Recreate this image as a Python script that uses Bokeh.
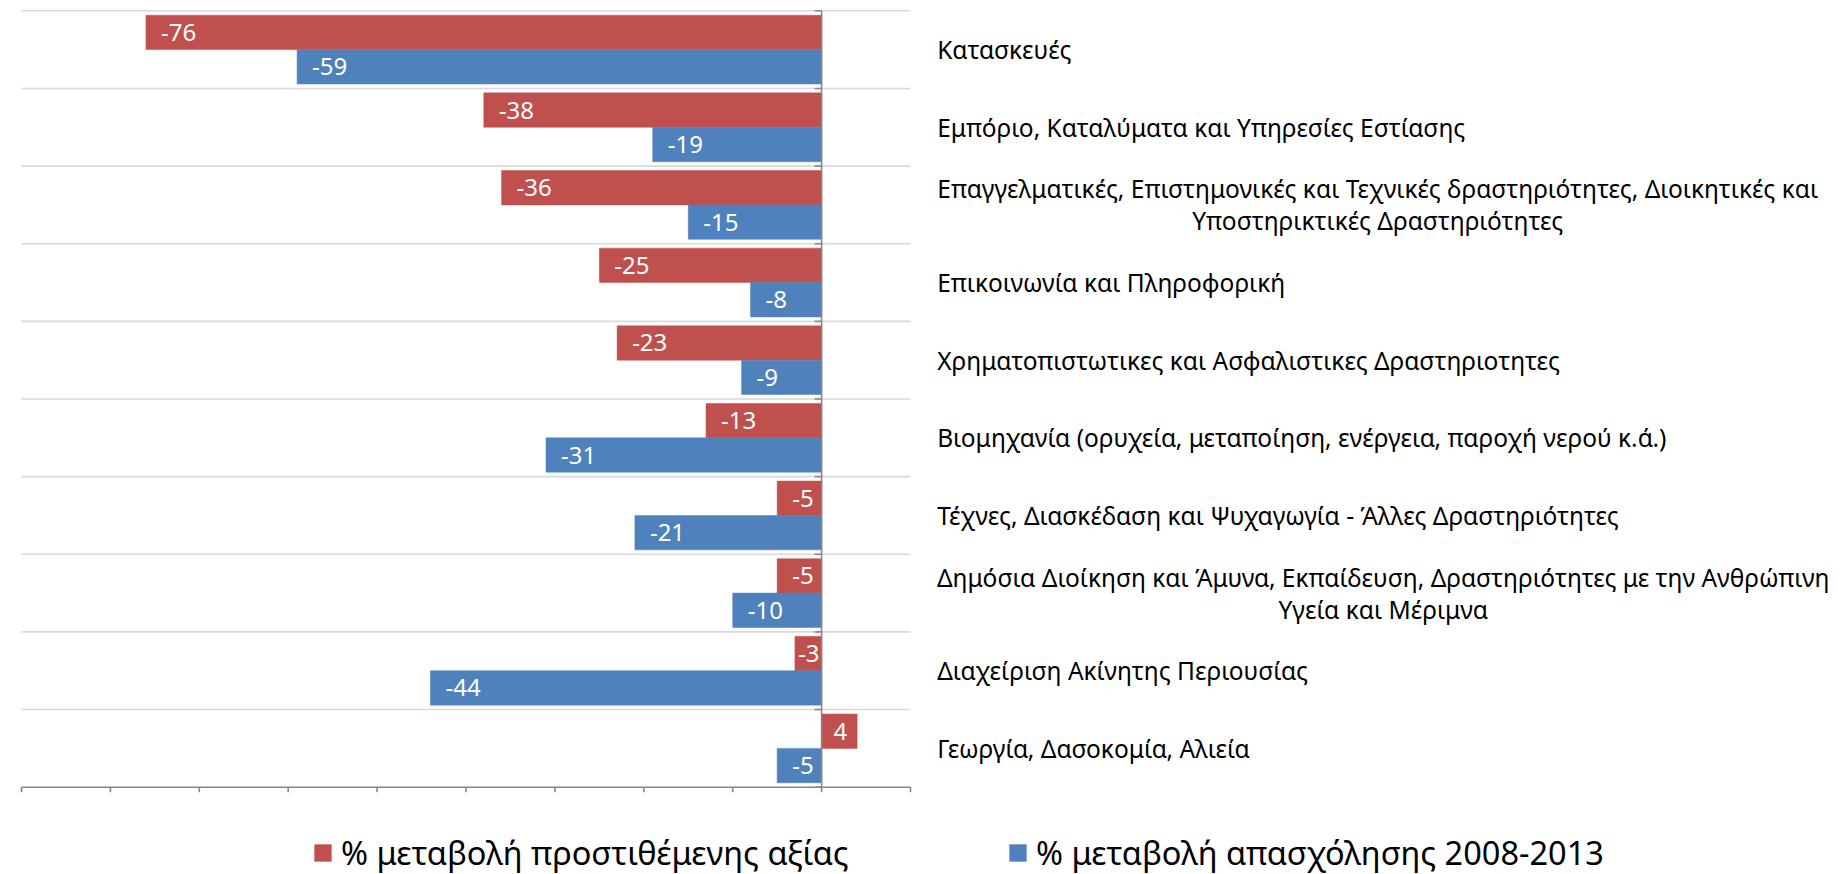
from bokeh.plotting import figure
from bokeh.models import ColumnDataSource, Range1d, Legend, LegendItem
from bokeh.embed import file_html
from bokeh.resources import INLINE
from bokeh.core.properties import value

# ---------------- data ----------------
categories = [
    "Κατασκευές",
    "Εμπόριο, Καταλύματα και Υπηρεσίες Εστίασης",
    "Επαγγελματικές, Επιστημονικές και Τεχνικές δραστηριότητες, Διοικητικές και\nΥποστηρικτικές Δραστηριότητες",
    "Επικοινωνία και Πληροφορική",
    "Χρηματοπιστωτικες και Ασφαλιστικες Δραστηριοτητες",
    "Βιομηχανία (ορυχεία, μεταποίηση, ενέργεια, παροχή νερού κ.ά.)",
    "Τέχνες, Διασκέδαση και Ψυχαγωγία - Άλλες Δραστηριότητες",
    "Δημόσια Διοίκηση και Άμυνα, Εκπαίδευση, Δραστηριότητες με την Ανθρώπινη\nΥγεία και Μέριμνα",
    "Διαχείριση Ακίνητης Περιουσίας",
    "Γεωργία, Δασοκομία, Αλιεία",
]
value_added = [-76, -38, -36, -25, -23, -13, -5, -5, -3, 4]
employment = [-59, -19, -15, -8, -9, -31, -21, -10, -44, -5]
series_names = ["% μεταβολή προστιθέμενης αξίας", "% μεταβολή απασχόλησης 2008-2013"]
x_ticks = [-90, -80, -70, -60, -50, -40, -30, -20, -10, 0, 10]

# ---------------- style / layout ----------------
RED = "#C0504D"
BLUE = "#4F81BD"
GRID = "#D9D9D9"
AXIS = "#868686"
FONT = "Noto Sans"

W, H = 1847, 874
X0, X1 = x_ticks[0], x_ticks[-1]
PLOT_L, PLOT_R = 21.0, 910.0      # page x of X0 and X1
PLOT_T, PLOT_B = 10.3, 786.7      # page y of top and bottom of category area
n = len(categories)
PX_X = (PLOT_R - PLOT_L) / (X1 - X0)
PX_Y = (PLOT_B - PLOT_T) / n

xs0 = X0 - PLOT_L / PX_X
ys1 = n + PLOT_T / PX_Y

p = figure(width=W, height=H, output_backend="svg", toolbar_location=None,
           x_range=Range1d(xs0, xs0 + W / PX_X), y_range=Range1d(ys1 - H / PX_Y, ys1),
           x_axis_location=None, y_axis_location=None,
           min_border=0, min_border_left=0, min_border_right=0,
           min_border_top=0, min_border_bottom=0)
p.outline_line_color = None
p.xgrid.visible = False
p.ygrid.visible = False
p.background_fill_color = "white"
p.border_fill_color = "white"

centers = [n - i - 0.5 for i in range(n)]
BAR_H = 0.443

# horizontal gridlines at category boundaries
bounds = list(range(1, n + 1))
p.segment(x0=[X0] * len(bounds), y0=bounds, x1=[X1] * len(bounds), y1=bounds,
          line_color=GRID, line_width=1.6)

# bars
red_src = ColumnDataSource(dict(y=[c + BAR_H / 2 for c in centers], v=value_added))
blue_src = ColumnDataSource(dict(y=[c - BAR_H / 2 for c in centers], v=employment))
r_red = p.hbar(y="y", left=0, right="v", height=BAR_H, source=red_src,
               fill_color=RED, line_color=RED, line_width=0.5)
r_blue = p.hbar(y="y", left=0, right="v", height=BAR_H, source=blue_src,
                fill_color=BLUE, line_color=BLUE, line_width=0.5)

# value axis (bottom) with outward ticks
tick_h = 5 / PX_Y
p.segment(x0=[X0], y0=[0], x1=[X1], y1=[0], line_color=AXIS, line_width=1.6)
p.segment(x0=x_ticks, y0=[0] * len(x_ticks), x1=x_ticks, y1=[-tick_h] * len(x_ticks),
          line_color=AXIS, line_width=1.6)

# category axis at zero with small ticks to the left
tick_w = 7 / PX_X
p.segment(x0=[0], y0=[0], x1=[0], y1=[n], line_color=AXIS, line_width=1.6)
p.segment(x0=[-tick_w] * (n + 1), y0=list(range(n + 1)), x1=[0] * (n + 1),
          y1=list(range(n + 1)), line_color=AXIS, line_width=1.6)

# bar value labels (inside end)
def label_cols(vals, ys):
    xs, aligns, offs, texts = [], [], [], []
    for v in vals:
        texts.append(str(v))
        if v < 0 and abs(v) * PX_X < 40:
            xs.append(0); aligns.append("right"); offs.append(-2)
        elif v < 0:
            xs.append(v); aligns.append("left"); offs.append(15)
        else:
            xs.append(v); aligns.append("right"); offs.append(-10)
    return ColumnDataSource(dict(x=xs, y=ys, t=texts, a=aligns, o=offs))

for vals, ys in ((value_added, red_src.data["y"]), (employment, blue_src.data["y"])):
    s = label_cols(vals, ys)
    p.text(x="x", y="y", text="t", source=s, text_align="a", x_offset="o",
           text_baseline="middle", text_color="white", text_font=value(FONT),
           text_font_size="24px")

# category labels on the right
LEFT_OFF = 26.7            # px from plot right edge to label start
LINE_GAP = 16 / PX_Y       # half distance between wrapped lines (data units)
WRAP_W = {2: 881, 7: 892}  # first-line widths of wrapped labels (px)
lx, ly, lt, la, lxo = [], [], [], [], []
for i, (cat, c) in enumerate(zip(categories, centers)):
    lines = cat.split("\n")
    if len(lines) == 1:
        lx.append(X1); ly.append(c); lt.append(cat); la.append("left"); lxo.append(LEFT_OFF)
    else:
        cx = LEFT_OFF + WRAP_W.get(i, 880) / 2
        for k, line in enumerate(lines):
            lx.append(X1); ly.append(c + (LINE_GAP if k == 0 else -LINE_GAP))
            lt.append(line); la.append("center"); lxo.append(cx)
cat_src = ColumnDataSource(dict(x=lx, y=ly, t=lt, a=la, xo=lxo))
p.text(x="x", y="y", text="t", source=cat_src, text_align="a", x_offset="xo",
       text_baseline="middle", text_color="black", text_font=value(FONT),
       text_font_size="24.5px")

# legend (two separate blocks at the bottom)
for name, r, vx in ((series_names[0], r_red, 312), (series_names[1], r_blue, 1007)):
    lg = Legend(items=[LegendItem(label=name, renderers=[r])], location=(vx, -1),
                orientation="horizontal", glyph_width=21, glyph_height=21,
                label_height=21, label_standoff=8, padding=0, margin=0, spacing=0,
                border_line_color=None, background_fill_alpha=0,
                label_text_font=FONT, label_text_font_size="32.5px",
                label_text_color="black")
    p.add_layout(lg, "center")

open("out.html", "w").write(file_html(p, INLINE))
